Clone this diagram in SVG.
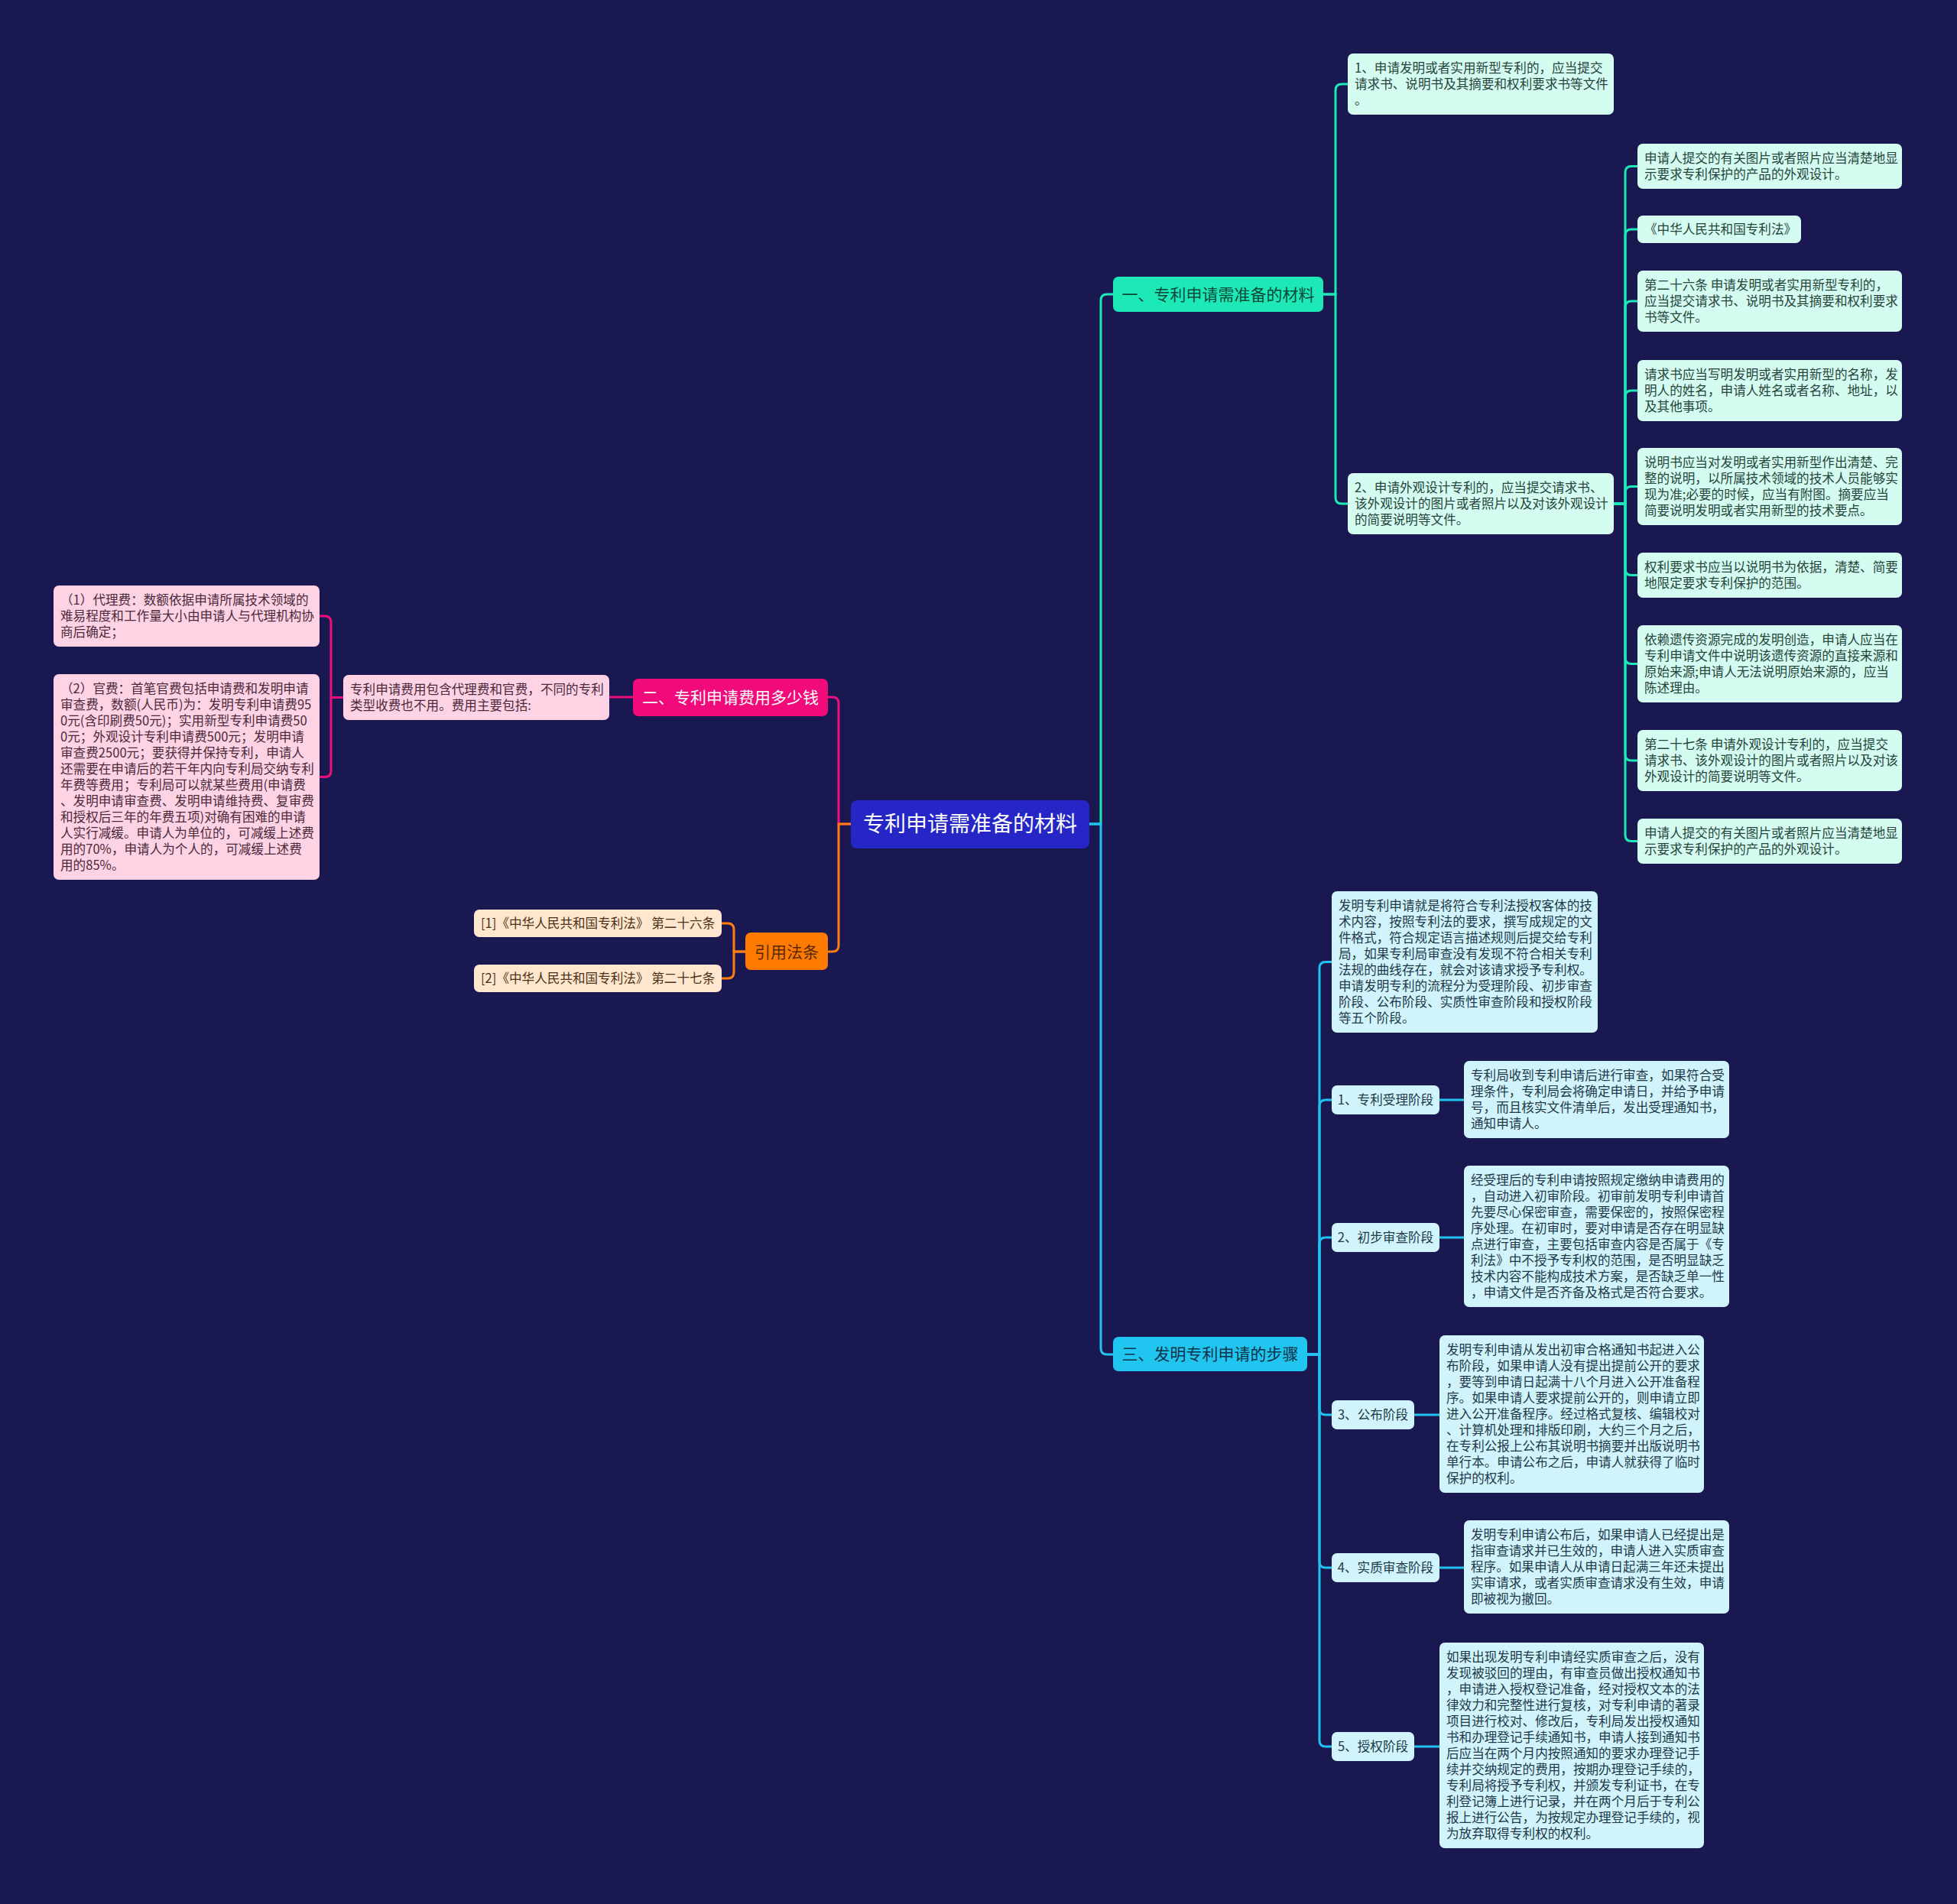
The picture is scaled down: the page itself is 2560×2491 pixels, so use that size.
<svg xmlns="http://www.w3.org/2000/svg" width="2560" height="2491" viewBox="0 0 2560 2491">
<style>
text{font-family:"Noto Sans CJK SC","Noto Sans",sans-serif}
.t{font-size:16.6px}
.b{font-size:21px}
.c{font-size:28px;fill:#ffffff}
.mint{fill:#d4fcf0}
.mt{fill:#26443c}
.pink{fill:#ffd2e4}
.pt{fill:#4a2a3a}
.peach{fill:#ffe7cf}
.ot{fill:#4f2f12}
.cyan{fill:#d1f4fc}
.ct{fill:#22384a}
.ln{fill:none;stroke-width:3;stroke-linecap:round}
.lt{stroke:#1de9b6}
.lp{stroke:#ee0f7c}
.lo{stroke:#ff7d12}
.lc{stroke:#22c3f0}
</style>
<rect width="2560" height="2491" fill="#1a1850"/>
<g id="connectors">
<path class="ln lt" d="M1425 1078 H1440 V393 Q1440 385 1448 385 H1456"/>
<path class="ln lc" d="M1425 1078 H1440 V1764 Q1440 1772 1448 1772 H1456"/>
<path class="ln lp" d="M1113 1078 H1097 V920 Q1097 912 1089 912 H1083"/>
<path class="ln lo" d="M1113 1078 H1097 V1237 Q1097 1245 1089 1245 H1083"/>
<path class="ln lt" d="M1731 385 H1747 V118 Q1747 110 1755 110 H1763"/>
<path class="ln lt" d="M1731 385 H1747 V651 Q1747 659 1755 659 H1763"/>
<path class="ln lt" d="M2111 659 H2126 V225.5 Q2126 217.5 2134 217.5 H2142"/>
<path class="ln lt" d="M2111 659 H2126 V308 Q2126 300 2134 300 H2142"/>
<path class="ln lt" d="M2111 659 H2126 V402 Q2126 394 2134 394 H2142"/>
<path class="ln lt" d="M2111 659 H2126 V519 Q2126 511 2134 511 H2142"/>
<path class="ln lt" d="M2111 659 H2126 V644.5 Q2126 636.5 2134 636.5 H2142"/>
<path class="ln lt" d="M2111 659 H2126 V744.5 Q2126 752.5 2134 752.5 H2142"/>
<path class="ln lt" d="M2111 659 H2126 V860.5 Q2126 868.5 2134 868.5 H2142"/>
<path class="ln lt" d="M2111 659 H2126 V987 Q2126 995 2134 995 H2142"/>
<path class="ln lt" d="M2111 659 H2126 V1092.5 Q2126 1100.5 2134 1100.5 H2142"/>
<path class="ln lp" d="M828 912 H797"/>
<path class="ln lp" d="M449 912.5 H433 V814 Q433 806 425 806 H418"/>
<path class="ln lp" d="M449 912.5 H433 V1008.5 Q433 1016.5 425 1016.5 H418"/>
<path class="ln lo" d="M975 1245 H960 V1216 Q960 1208 952 1208 H944"/>
<path class="ln lo" d="M975 1245 H960 V1272 Q960 1280 952 1280 H944"/>
<path class="ln lc" d="M1710 1772 H1726 V1266.5 Q1726 1258.5 1734 1258.5 H1742"/>
<path class="ln lc" d="M1710 1772 H1726 V1447 Q1726 1439 1734 1439 H1742"/>
<path class="ln lc" d="M1710 1772 H1726 V1627 Q1726 1619 1734 1619 H1742"/>
<path class="ln lc" d="M1710 1772 H1726 V1843 Q1726 1851 1734 1851 H1742"/>
<path class="ln lc" d="M1710 1772 H1726 V2043 Q1726 2051 1734 2051 H1742"/>
<path class="ln lc" d="M1710 1772 H1726 V2277 Q1726 2285 1734 2285 H1742"/>
<path class="ln lc" d="M1883 1439 H1915"/>
<path class="ln lc" d="M1883 1619 H1915"/>
<path class="ln lc" d="M1850 1851 H1883"/>
<path class="ln lc" d="M1883 2051 H1915"/>
<path class="ln lc" d="M1850 2285 H1883"/>
</g>
<g id="root">
<rect x="1113" y="1047" width="312" height="63" rx="8" fill="#2626c6"/>
<text class="c" x="1269" y="1088" text-anchor="middle">专利申请需准备的材料</text>
</g>
<g id="branch1">
<rect x="1456" y="362" width="275" height="46" rx="7" fill="#1de9b6"/>
<text class="b" x="1593.5" y="392.5" text-anchor="middle" fill="#0e4a3c">一、专利申请需准备的材料</text>
</g>
<g id="branch2">
<rect x="828" y="888" width="255" height="49" rx="7" fill="#f00a7a"/>
<text class="b" x="955.5" y="920" text-anchor="middle" fill="#ffffff">二、专利申请费用多少钱</text>
</g>
<g id="branch3">
<rect x="975" y="1220" width="108" height="49" rx="7" fill="#ff7b00"/>
<text class="b" x="1029" y="1253" text-anchor="middle" fill="#5a2800">引用法条</text>
</g>
<g id="branch4">
<rect x="1456" y="1749" width="254" height="45" rx="7" fill="#20c6ef"/>
<text class="b" x="1583" y="1779" text-anchor="middle" fill="#10324a">三、发明专利申请的步骤</text>
</g>
<g id="m1">
<rect class="mint" x="1763" y="70" width="348" height="80" rx="7"/>
<text class="t mt"><tspan x="1772" y="95">1、申请发明或者实用新型专利的，应当提交</tspan><tspan x="1772" y="116">请求书、说明书及其摘要和权利要求书等文件</tspan><tspan x="1772" y="137">。</tspan></text>
</g>
<g id="m2">
<rect class="mint" x="1763" y="619" width="348" height="80" rx="7"/>
<text class="t mt"><tspan x="1772" y="644">2、申请外观设计专利的，应当提交请求书、</tspan><tspan x="1772" y="665">该外观设计的图片或者照片以及对该外观设计</tspan><tspan x="1772" y="686">的简要说明等文件。</tspan></text>
</g>
<g id="ma">
<rect class="mint" x="2142" y="188" width="346" height="59" rx="7"/>
<text class="t mt"><tspan x="2151" y="213">申请人提交的有关图片或者照片应当清楚地显</tspan><tspan x="2151" y="234">示要求专利保护的产品的外观设计。</tspan></text>
</g>
<g id="mb">
<rect class="mint" x="2142" y="282" width="214" height="36" rx="7"/>
<text class="t mt" x="2151" y="306">《中华人民共和国专利法》</text>
</g>
<g id="mc">
<rect class="mint" x="2142" y="354" width="346" height="80" rx="7"/>
<text class="t mt"><tspan x="2151" y="379">第二十六条 申请发明或者实用新型专利的，</tspan><tspan x="2151" y="400">应当提交请求书、说明书及其摘要和权利要求</tspan><tspan x="2151" y="421">书等文件。</tspan></text>
</g>
<g id="md">
<rect class="mint" x="2142" y="471" width="346" height="80" rx="7"/>
<text class="t mt"><tspan x="2151" y="496">请求书应当写明发明或者实用新型的名称，发</tspan><tspan x="2151" y="517">明人的姓名，申请人姓名或者名称、地址，以</tspan><tspan x="2151" y="538">及其他事项。</tspan></text>
</g>
<g id="me">
<rect class="mint" x="2142" y="586" width="346" height="101" rx="7"/>
<text class="t mt"><tspan x="2151" y="611">说明书应当对发明或者实用新型作出清楚、完</tspan><tspan x="2151" y="632">整的说明，以所属技术领域的技术人员能够实</tspan><tspan x="2151" y="653">现为准;必要的时候，应当有附图。摘要应当</tspan><tspan x="2151" y="674">简要说明发明或者实用新型的技术要点。</tspan></text>
</g>
<g id="mf">
<rect class="mint" x="2142" y="723" width="346" height="59" rx="7"/>
<text class="t mt"><tspan x="2151" y="748">权利要求书应当以说明书为依据，清楚、简要</tspan><tspan x="2151" y="769">地限定要求专利保护的范围。</tspan></text>
</g>
<g id="mg">
<rect class="mint" x="2142" y="818" width="346" height="101" rx="7"/>
<text class="t mt"><tspan x="2151" y="843">依赖遗传资源完成的发明创造，申请人应当在</tspan><tspan x="2151" y="864">专利申请文件中说明该遗传资源的直接来源和</tspan><tspan x="2151" y="885">原始来源;申请人无法说明原始来源的，应当</tspan><tspan x="2151" y="906">陈述理由。</tspan></text>
</g>
<g id="mh">
<rect class="mint" x="2142" y="955" width="346" height="80" rx="7"/>
<text class="t mt"><tspan x="2151" y="980">第二十七条 申请外观设计专利的，应当提交</tspan><tspan x="2151" y="1001">请求书、该外观设计的图片或者照片以及对该</tspan><tspan x="2151" y="1022">外观设计的简要说明等文件。</tspan></text>
</g>
<g id="mi">
<rect class="mint" x="2142" y="1071" width="346" height="59" rx="7"/>
<text class="t mt"><tspan x="2151" y="1096">申请人提交的有关图片或者照片应当清楚地显</tspan><tspan x="2151" y="1117">示要求专利保护的产品的外观设计。</tspan></text>
</g>
<g id="p0">
<rect class="pink" x="449" y="883" width="348" height="59" rx="7"/>
<text class="t pt"><tspan x="458" y="908">专利申请费用包含代理费和官费，不同的专利</tspan><tspan x="458" y="929">类型收费也不用。费用主要包括:</tspan></text>
</g>
<g id="p1">
<rect class="pink" x="70" y="766" width="348" height="80" rx="7"/>
<text class="t pt"><tspan x="79" y="791">（1）代理费：数额依据申请所属技术领域的</tspan><tspan x="79" y="812">难易程度和工作量大小由申请人与代理机构协</tspan><tspan x="79" y="833">商后确定；</tspan></text>
</g>
<g id="p2">
<rect class="pink" x="70" y="882" width="348" height="269" rx="7"/>
<text class="t pt"><tspan x="79" y="907">（2）官费：首笔官费包括申请费和发明申请</tspan><tspan x="79" y="928">审查费，数额(人民币)为：发明专利申请费95</tspan><tspan x="79" y="949">0元(含印刷费50元)；实用新型专利申请费50</tspan><tspan x="79" y="970">0元；外观设计专利申请费500元；发明申请</tspan><tspan x="79" y="991">审查费2500元；要获得并保持专利，申请人</tspan><tspan x="79" y="1012">还需要在申请后的若干年内向专利局交纳专利</tspan><tspan x="79" y="1033">年费等费用；专利局可以就某些费用(申请费</tspan><tspan x="79" y="1054">、发明申请审查费、发明申请维持费、复审费</tspan><tspan x="79" y="1075">和授权后三年的年费五项)对确有困难的申请</tspan><tspan x="79" y="1096">人实行减缓。申请人为单位的，可减缓上述费</tspan><tspan x="79" y="1117">用的70%，申请人为个人的，可减缓上述费</tspan><tspan x="79" y="1138">用的85%。</tspan></text>
</g>
<g id="r1">
<rect class="peach" x="620" y="1190" width="324" height="36" rx="7"/>
<text class="t ot" x="629" y="1214">[1]《中华人民共和国专利法》 第二十六条</text>
</g>
<g id="r2">
<rect class="peach" x="620" y="1262" width="324" height="36" rx="7"/>
<text class="t ot" x="629" y="1286">[2]《中华人民共和国专利法》 第二十七条</text>
</g>
<g id="c0">
<rect class="cyan" x="1742" y="1166" width="348" height="185" rx="7"/>
<text class="t ct"><tspan x="1751" y="1191">发明专利申请就是将符合专利法授权客体的技</tspan><tspan x="1751" y="1212">术内容，按照专利法的要求，撰写成规定的文</tspan><tspan x="1751" y="1233">件格式，符合规定语言描述规则后提交给专利</tspan><tspan x="1751" y="1254">局，如果专利局审查没有发现不符合相关专利</tspan><tspan x="1751" y="1275">法规的曲线存在，就会对该请求授予专利权。</tspan><tspan x="1751" y="1296">申请发明专利的流程分为受理阶段、初步审查</tspan><tspan x="1751" y="1317">阶段、公布阶段、实质性审查阶段和授权阶段</tspan><tspan x="1751" y="1338">等五个阶段。</tspan></text>
</g>
<g id="s1">
<rect class="cyan" x="1742" y="1420" width="141" height="38" rx="7"/>
<text class="t ct" x="1812.5" y="1445" text-anchor="middle">1、专利受理阶段</text>
</g>
<g id="s1c">
<rect class="cyan" x="1915" y="1388" width="347" height="101" rx="7"/>
<text class="t ct"><tspan x="1924" y="1413">专利局收到专利申请后进行审查，如果符合受</tspan><tspan x="1924" y="1434">理条件，专利局会将确定申请日，并给予申请</tspan><tspan x="1924" y="1455">号，而且核实文件清单后，发出受理通知书，</tspan><tspan x="1924" y="1476">通知申请人。</tspan></text>
</g>
<g id="s2">
<rect class="cyan" x="1742" y="1600" width="141" height="38" rx="7"/>
<text class="t ct" x="1812.5" y="1625" text-anchor="middle">2、初步审查阶段</text>
</g>
<g id="s2c">
<rect class="cyan" x="1915" y="1525" width="347" height="185" rx="7"/>
<text class="t ct"><tspan x="1924" y="1550">经受理后的专利申请按照规定缴纳申请费用的</tspan><tspan x="1924" y="1571">，自动进入初审阶段。初审前发明专利申请首</tspan><tspan x="1924" y="1592">先要尽心保密审查，需要保密的，按照保密程</tspan><tspan x="1924" y="1613">序处理。在初审时，要对申请是否存在明显缺</tspan><tspan x="1924" y="1634">点进行审查，主要包括审查内容是否属于《专</tspan><tspan x="1924" y="1655">利法》中不授予专利权的范围，是否明显缺乏</tspan><tspan x="1924" y="1676">技术内容不能构成技术方案，是否缺乏单一性</tspan><tspan x="1924" y="1697">，申请文件是否齐备及格式是否符合要求。</tspan></text>
</g>
<g id="s3">
<rect class="cyan" x="1742" y="1832" width="108" height="38" rx="7"/>
<text class="t ct" x="1796" y="1857" text-anchor="middle">3、公布阶段</text>
</g>
<g id="s3c">
<rect class="cyan" x="1883" y="1747" width="346" height="206" rx="7"/>
<text class="t ct"><tspan x="1892" y="1772">发明专利申请从发出初审合格通知书起进入公</tspan><tspan x="1892" y="1793">布阶段，如果申请人没有提出提前公开的要求</tspan><tspan x="1892" y="1814">，要等到申请日起满十八个月进入公开准备程</tspan><tspan x="1892" y="1835">序。如果申请人要求提前公开的，则申请立即</tspan><tspan x="1892" y="1856">进入公开准备程序。经过格式复核、编辑校对</tspan><tspan x="1892" y="1877">、计算机处理和排版印刷，大约三个月之后，</tspan><tspan x="1892" y="1898">在专利公报上公布其说明书摘要并出版说明书</tspan><tspan x="1892" y="1919">单行本。申请公布之后，申请人就获得了临时</tspan><tspan x="1892" y="1940">保护的权利。</tspan></text>
</g>
<g id="s4">
<rect class="cyan" x="1742" y="2032" width="141" height="38" rx="7"/>
<text class="t ct" x="1812.5" y="2057" text-anchor="middle">4、实质审查阶段</text>
</g>
<g id="s4c">
<rect class="cyan" x="1915" y="1989" width="347" height="122" rx="7"/>
<text class="t ct"><tspan x="1924" y="2014">发明专利申请公布后，如果申请人已经提出是</tspan><tspan x="1924" y="2035">指审查请求并已生效的，申请人进入实质审查</tspan><tspan x="1924" y="2056">程序。如果申请人从申请日起满三年还未提出</tspan><tspan x="1924" y="2077">实审请求，或者实质审查请求没有生效，申请</tspan><tspan x="1924" y="2098">即被视为撤回。</tspan></text>
</g>
<g id="s5">
<rect class="cyan" x="1742" y="2266" width="108" height="38" rx="7"/>
<text class="t ct" x="1796" y="2291" text-anchor="middle">5、授权阶段</text>
</g>
<g id="s5c">
<rect class="cyan" x="1883" y="2149" width="346" height="269" rx="7"/>
<text class="t ct"><tspan x="1892" y="2174">如果出现发明专利申请经实质审查之后，没有</tspan><tspan x="1892" y="2195">发现被驳回的理由，有审查员做出授权通知书</tspan><tspan x="1892" y="2216">，申请进入授权登记准备，经对授权文本的法</tspan><tspan x="1892" y="2237">律效力和完整性进行复核，对专利申请的著录</tspan><tspan x="1892" y="2258">项目进行校对、修改后，专利局发出授权通知</tspan><tspan x="1892" y="2279">书和办理登记手续通知书，申请人接到通知书</tspan><tspan x="1892" y="2300">后应当在两个月内按照通知的要求办理登记手</tspan><tspan x="1892" y="2321">续并交纳规定的费用，按期办理登记手续的，</tspan><tspan x="1892" y="2342">专利局将授予专利权，并颁发专利证书，在专</tspan><tspan x="1892" y="2363">利登记簿上进行记录，并在两个月后于专利公</tspan><tspan x="1892" y="2384">报上进行公告，为按规定办理登记手续的，视</tspan><tspan x="1892" y="2405">为放弃取得专利权的权利。</tspan></text>
</g>
</svg>
